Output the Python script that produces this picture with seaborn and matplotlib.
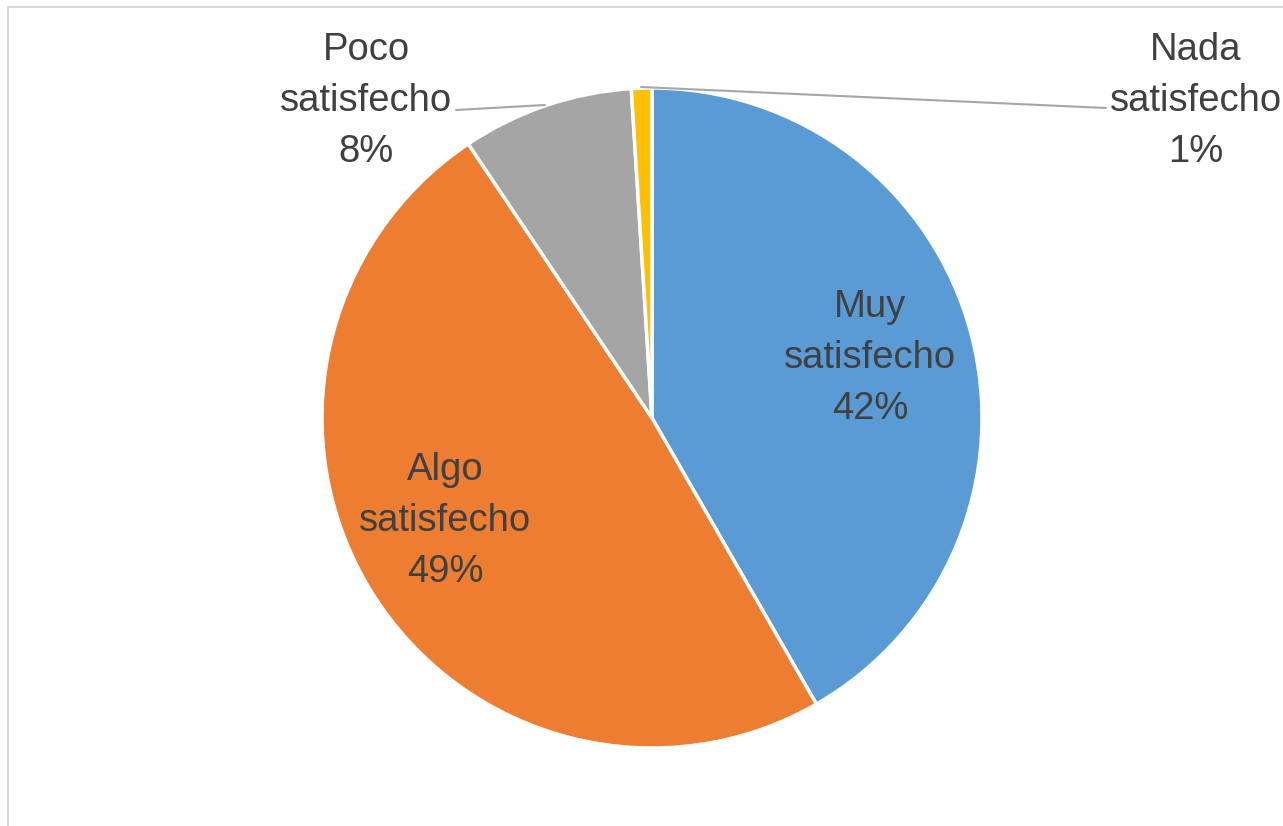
import matplotlib
import seaborn as sns
import numpy as np
from matplotlib import pyplot as plt
from matplotlib.patches import Rectangle

categories = ["Muy\nsatisfecho", "Algo\nsatisfecho", "Poco\nsatisfecho", "Nada\nsatisfecho"]
shares = [41.7, 48.9, 8.4, 1.0]
pct_labels = ["42%", "49%", "8%", "1%"]
colors = ["#5B9BD5", "#ED7D31", "#A5A5A5", "#FFC000"]

sns.set_theme(style="white")
plt.rcParams['font.family'] = ['Liberation Sans', 'DejaVu Sans']

W, H = 1283, 826
fig = plt.figure(figsize=(W / 100, H / 100), dpi=100)
fig.patch.set_facecolor("white")

# light chart frame (open to right/bottom, as in the crop)
fig.add_artist(Rectangle((7.5 / W, -0.1), 1.2, 1 - 6.5 / H + 0.1, transform=fig.transFigure,
                         fill=False, edgecolor="#D9D9D9", linewidth=1.5))

cx, cy, r = 652, 418, 330
ax = fig.add_axes([(cx - r) / W, (H - cy - r) / H, 2 * r / W, 2 * r / H])
ax.pie(shares, colors=colors, startangle=90, counterclock=False, radius=1,
       wedgeprops=dict(edgecolor="white", linewidth=2.5))
ax.set_xlim(-1, 1)
ax.set_ylim(-1, 1)
ax.axis("off")


def px(x, y):
    return ((x - cx) / r, (cy - y) / r)


txt = dict(ha="center", va="center", fontsize=27.5, color="#404040", linespacing=1.52, clip_on=False)
label_pos = [px(870, 358), px(445, 521), px(366, 101), px(1196, 101)]
for cat, pct, pos in zip(categories, pct_labels, label_pos):
    ax.text(pos[0], pos[1], f"{cat}\n{pct}", **txt)

# leader lines
for (x0, y0), (x1, y1) in [((545, 105), (456, 110)), ((641, 87), (1106, 108))]:
    p0, p1 = px(x0, y0), px(x1, y1)
    ax.plot([p0[0], p1[0]], [p0[1], p1[1]], color="#A6A6A6", linewidth=1.5, clip_on=False)

fig.savefig("out.png", dpi=100)
